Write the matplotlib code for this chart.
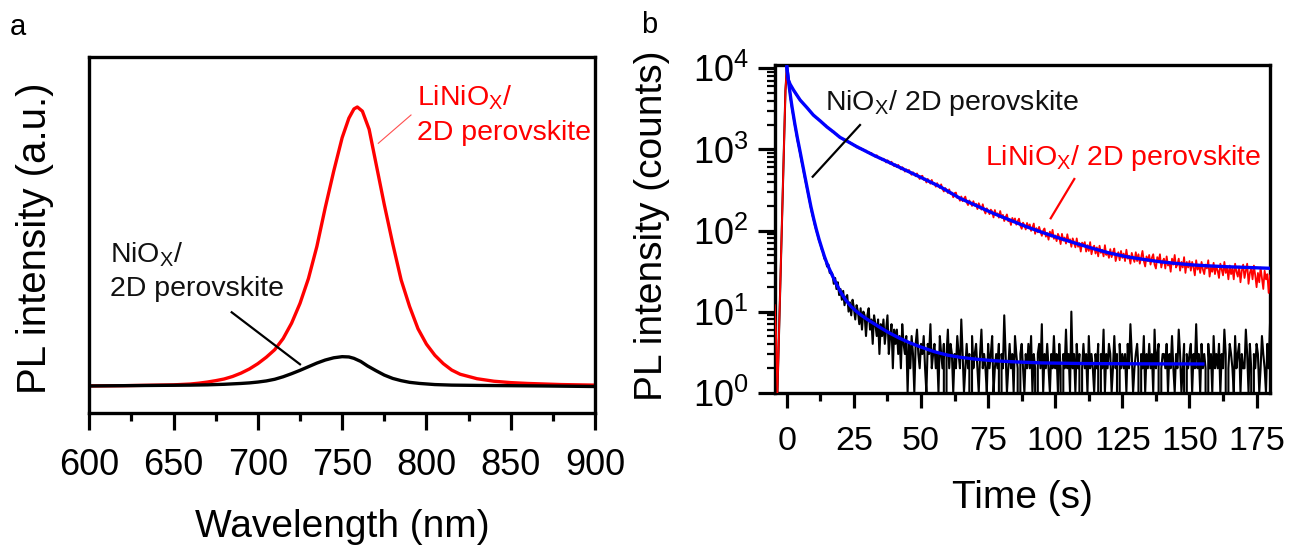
import numpy as np
import matplotlib
matplotlib.use('Agg')
import matplotlib.pyplot as plt
from matplotlib.lines import Line2D
from matplotlib.ticker import MultipleLocator, LogLocator, NullFormatter, NullLocator, LogFormatterMathtext

plt.rcParams['font.family'] = ['Liberation Sans', 'DejaVu Sans']
plt.rcParams['mathtext.fontset'] = 'custom'
plt.rcParams['mathtext.rm'] = 'Liberation Sans'
plt.rcParams['mathtext.it'] = 'Liberation Sans:italic'
plt.rcParams['mathtext.default'] = 'regular'

# ---------------- Panel a data: steady-state PL ----------------
wl_red = [600, 620, 640, 650, 660, 665, 670, 675, 680, 685, 690, 695, 700, 705, 710, 715,
          720, 725, 730, 735, 740, 745, 750, 754, 757, 759, 762, 766, 770, 775, 780, 785,
          790, 795, 800, 805, 810, 815, 820, 830, 840, 850, 860, 870, 880, 890, 900]
pl_red = [0.000, 0.001, 0.003, 0.004, 0.007, 0.010, 0.014, 0.019, 0.025, 0.034, 0.046, 0.061,
          0.080, 0.103, 0.130, 0.170, 0.225, 0.296, 0.385, 0.500, 0.640, 0.770, 0.890, 0.960,
          0.993, 1.000, 0.985, 0.920, 0.800, 0.650, 0.510, 0.380, 0.285, 0.205, 0.150, 0.110,
          0.080, 0.057, 0.042, 0.026, 0.017, 0.012, 0.009, 0.007, 0.005, 0.004, 0.003]
wl_black = [600, 640, 660, 670, 680, 690, 695, 700, 705, 710, 715, 720, 725, 730, 735, 740,
            745, 750, 754, 757, 761, 765, 770, 775, 780, 785, 790, 796, 805, 815, 830, 850,
            870, 900]
pl_black = [0.000, 0.002, 0.003, 0.004, 0.006, 0.009, 0.011, 0.014, 0.018, 0.024, 0.033,
            0.044, 0.056, 0.069, 0.082, 0.093, 0.101, 0.105, 0.104, 0.099, 0.088, 0.072,
            0.055, 0.039, 0.027, 0.019, 0.013, 0.009, 0.005, 0.003, 0.002, 0.001, 0.000,
            -0.002]

# ---------------- Panel b data: TRPL decays ----------------
t_start = -4.5   # first channel time (s)
t_step = 0.5     # channel width (s)
counts_red = [12, 5, 1, 4, 17, 74, 310, 1300, 5400, 10000,
              7450, 6750, 6050, 5750, 5350, 5100, 4730, 4550, 4220, 4080,
              3850, 3760, 3540, 3450, 3250, 3170, 2980, 2910, 2730, 2670,
              2590, 2450, 2420, 2290, 2270, 2140, 2120, 2000, 1990, 1870,
              1860, 1760, 1750, 1650, 1660, 1560, 1550, 1460, 1470, 1380,
              1390, 1320, 1335, 1270, 1280, 1215, 1230, 1160, 1180, 1120,
              1130, 1060, 1085, 1020, 1045, 985, 1005, 950, 970, 915,
              931, 878, 906, 854, 854, 806, 849, 802, 772, 789,
              737, 769, 740, 691, 736, 709, 663, 705, 652, 621,
              655, 606, 645, 603, 568, 605, 582, 533, 568, 531,
              559, 512, 487, 524, 500, 467, 506, 463, 432, 466,
              474, 422, 437, 391, 433, 405, 378, 421, 372, 384,
              347, 384, 359, 334, 371, 326, 303, 335, 318, 290,
              322, 283, 294, 257, 289, 294, 251, 258, 233, 263,
              230, 248, 262, 223, 206, 235, 220, 201, 230, 203,
              214, 184, 217, 197, 181, 211, 178, 162, 188, 176,
              159, 181, 172, 145, 179, 155, 163, 144, 174, 144,
              156, 131, 146, 158, 130, 138, 117, 143, 129, 141,
              118, 130, 140, 115, 105, 125, 117, 103, 124, 108,
              119, 99, 109, 122, 91, 107, 95, 111, 97, 86,
              100, 106, 84, 93, 77, 97, 84, 102, 79, 87,
              74, 91, 83, 68, 91, 75, 82, 69, 90, 73,
              78, 63, 80, 71, 62, 80, 63, 70, 55, 71,
              65, 72, 55, 66, 56, 72, 51, 61, 65, 52,
              62, 48, 65, 53, 58, 48, 66, 50, 54, 46,
              59, 47, 54, 60, 42, 49, 54, 43, 56, 46,
              52, 42, 58, 45, 49, 39, 53, 46, 41, 54,
              42, 51, 39, 47, 56, 42, 36, 48, 42, 50,
              38, 46, 51, 38, 34, 47, 41, 51, 35, 42,
              45, 34, 48, 37, 41, 31, 45, 38, 50, 35,
              38, 45, 32, 41, 35, 47, 30, 41, 35, 42,
              32, 41, 35, 28, 43, 33, 38, 30, 41, 33,
              29, 38, 34, 43, 27, 35, 31, 40, 29, 36,
              32, 26, 39, 33, 28, 41, 30, 35, 25, 37,
              29, 34, 25, 39, 31, 27, 36, 23, 32, 38,
              26, 32, 39, 22, 30, 34, 25, 37, 28, 20,
              30, 23, 35, 26, 19, 32, 25, 29, 17, 28]
counts_black = [1, 1, 1, 4, 17, 74, 310, 1300, 5400, 10000,
                7400, 5600, 4100, 3150, 2520, 1980, 1600, 1290, 1080, 890,
                720, 610, 490, 405, 330, 275, 228, 186, 158, 137,
                115, 101, 88, 76, 68, 59, 54, 45, 43, 36,
                38, 30, 31, 29, 22, 26, 19, 23, 16, 19,
                14, 18, 12, 15, 16, 10, 13, 9, 14, 11,
                8, 12, 10, 7, 11, 6, 10, 9, 5, 9,
                11, 6, 8, 4, 9, 7, 5, 8, 3, 7,
                5, 8, 4, 6, 9, 3, 5, 7, 2, 6,
                4, 6, 3, 5, 2, 7, 4, 3, 5, 1,
                4, 2, 5, 3, 1, 4, 6, 3, 2, 4,
                3, 5, 2, 1, 4, 3, 7, 2, 3, 4,
                2, 3, 1, 5, 3, 2, 4, 0, 3, 6,
                2, 4, 3, 1, 3, 2, 5, 3, 2, 8,
                3, 1, 2, 4, 2, 3, 0, 5, 2, 3,
                4, 2, 1, 3, 6, 2, 3, 2, 1, 4,
                2, 3, 5, 1, 2, 3, 2, 4, 0, 3,
                2, 9, 3, 1, 2, 4, 2, 3, 1, 5,
                3, 2, 0, 3, 4, 2, 1, 3, 2, 4,
                2, 5, 1, 3, 2, 0, 3, 4, 2, 7,
                1, 3, 2, 4, 2, 1, 3, 2, 5, 2,
                3, 1, 4, 2, 0, 3, 2, 6, 2, 3,
                1, 10, 2, 3, 1, 4, 2, 3, 0, 2,
                4, 2, 3, 1, 5, 2, 3, 2, 1, 3,
                2, 4, 0, 3, 2, 6, 1, 3, 2, 4,
                3, 1, 2, 5, 2, 3, 0, 4, 2, 3,
                2, 3, 1, 4, 2, 7, 3, 1, 2, 3,
                4, 2, 0, 3, 2, 5, 1, 3, 2, 4,
                2, 3, 1, 6, 2, 3, 4, 0, 2, 3,
                3, 2, 4, 1, 3, 2, 5, 2, 1, 3,
                2, 6, 3, 1, 2, 4, 0, 3, 2, 3,
                4, 1, 3, 2, 7, 2, 3, 1, 4, 2,
                3, 2, 0, 4, 2, 3, 1, 5, 2, 3,
                2, 4, 1, 3, 2, 6, 3, 0, 2, 4,
                3, 2, 1, 5, 2, 3, 4, 1, 3, 2,
                2, 6, 3, 1, 4, 2, 0, 3, 2, 4,
                3, 1, 2, 5, 3, 2, 1, 4, 2, 7]
fit_red_t = [0, 0.3, 0.6, 1.2, 2.5, 4.95, 7.5, 9.9, 12.5, 14.9, 17.5, 19.8, 23, 26.1, 29,
             32.3, 38, 44.7, 51, 57.1, 64.5, 70, 76.9, 83, 89.4, 95.5, 101.8, 108, 114.1,
             120, 126.6, 133, 139, 145, 151.4, 157.5, 163.8, 172, 180]
fit_red_v = [10400, 8600, 7180, 6400, 5400, 4070, 3280, 2650, 2240, 1900, 1630, 1410, 1236,
             1080, 967, 850, 695, 546, 435, 347, 250, 207, 163, 135, 111, 94, 80, 69, 60,
             53, 47.5, 44, 41.2, 39.3, 37.6, 36.6, 35.8, 35, 34.2]
fit_black_t = [0, 0.5, 1, 1.5, 2, 3, 4, 5, 6, 7, 8, 9, 10, 11, 12, 13, 14, 15, 16.5, 18, 20,
               22, 24, 26, 28, 30, 32.5, 35, 38, 42, 46, 50, 55, 60, 65, 70, 77, 85, 95,
               110, 130, 155]
fit_black_v = [10400, 7500, 5600, 4200, 3250, 2050, 1350, 920, 620, 420, 285, 195, 140, 103,
               78, 61, 48, 39, 30, 23.5, 17.5, 13.8, 11.5, 10.0, 8.9, 8.0, 7.1, 6.3, 5.5,
               4.7, 4.1, 3.65, 3.2, 2.9, 2.72, 2.6, 2.48, 2.4, 2.33, 2.29, 2.27, 2.26]

RED = '#ff0000'
BLUE = '#0000ff'

W, H = 1291, 546
fig = plt.figure(figsize=(W / 100, H / 100), dpi=100)


def fx(x):
    return x / W


def fy(y):
    return 1 - y / H


# ---------------- Panel a ----------------
a_l, a_r, a_t, a_b = 89.3, 595.0, 56.5, 413.3
axa = fig.add_axes([fx(a_l), fy(a_b), (a_r - a_l) / W, (a_b - a_t) / H])
axa.plot(wl_red, pl_red, color=RED, lw=2.4, solid_joinstyle='round', zorder=2)
axa.plot(wl_black, pl_black, color='black', lw=2.4, solid_joinstyle='round', zorder=3)
axa.set_xlim(600, 900)
axa.set_ylim(-0.098, 1.181)
axa.xaxis.set_major_locator(MultipleLocator(50))
axa.xaxis.set_minor_locator(MultipleLocator(25))
axa.yaxis.set_major_locator(NullLocator())
axa.yaxis.set_minor_locator(NullLocator())
axa.tick_params(axis='x', which='major', direction='out', length=12, width=2.3,
                labelsize=26, pad=13, top=False)
axa.tick_params(axis='x', which='minor', direction='out', length=6, width=2.3, top=False)
for s in axa.spines.values():
    s.set_linewidth(2.4)
axa.set_xlabel('Wavelength (nm)', fontsize=28)
axa.xaxis.label.set_va('baseline')
axa.xaxis.set_label_coords(0.5, (a_b - 536.7) / (a_b - a_t))
axa.set_ylabel('PL intensity (a.u.)', fontsize=29)
axa.yaxis.label.set_va('baseline')
axa.yaxis.set_label_coords((46 - a_l) / (a_r - a_l), 0.49)

# ---------------- Panel b ----------------
b_l, b_r, b_t, b_b = 775.0, 1270.0, 65.0, 392.7
axb = fig.add_axes([fx(b_l), fy(b_b), (b_r - b_l) / W, (b_b - b_t) / H])
t_axis = t_start + t_step * np.arange(len(counts_black))
axb.plot(t_axis, counts_black, color='black', lw=1.5, zorder=2)
axb.plot(t_axis, counts_red, color=RED, lw=1.3, zorder=3)
axb.plot(fit_black_t, fit_black_v, color=BLUE, lw=2.4, zorder=4)
axb.plot(fit_red_t, fit_red_v, color=BLUE, lw=2.4, zorder=4)
axb.set_yscale('log', nonpositive='clip')
axb.set_ylim(1, 1.1e4)
axb.set_xlim(-4.4, 180)
axb.xaxis.set_major_locator(MultipleLocator(25))
axb.xaxis.set_minor_locator(MultipleLocator(12.5))
axb.yaxis.set_major_locator(LogLocator(base=10, numticks=10))
axb.yaxis.set_minor_locator(LogLocator(base=10, subs=np.arange(2, 10), numticks=20))
axb.yaxis.set_major_formatter(LogFormatterMathtext())
axb.yaxis.set_minor_formatter(NullFormatter())
axb.tick_params(axis='x', which='major', direction='out', length=11, width=2.3,
                labelsize=24.5, pad=13, top=False)
axb.tick_params(axis='x', which='minor', direction='out', length=5.5, width=2.3, top=False)
axb.tick_params(axis='y', which='major', direction='out', length=12, width=2.3,
                labelsize=26, pad=7, right=False)
axb.tick_params(axis='y', which='minor', direction='out', length=6, width=1.6, right=False)
for s in axb.spines.values():
    s.set_linewidth(2.4)
axb.set_xlabel('Time (s)', fontsize=28)
axb.xaxis.label.set_va('baseline')
axb.xaxis.set_label_coords(0.5, (b_b - 508) / (b_b - b_t))
axb.set_ylabel('PL intensity (counts)', fontsize=28)
axb.yaxis.label.set_va('baseline')
axb.yaxis.set_label_coords((662 - b_l) / (b_r - b_l), 0.51)

# ---------------- Panel letters ----------------
fig.text(fx(10), fy(35), 'a', fontsize=21, va='baseline', ha='left')
fig.text(fx(641), fy(33), 'b', fontsize=21, va='baseline', ha='left')

# ---------------- Annotations ----------------
ANN = 20.5
fig.text(fx(416.7), fy(105), r'LiNiO$_{X}$/', fontsize=ANN, color=RED, va='baseline')
fig.text(fx(416.7), fy(139.5), '2D perovskite', fontsize=ANN, color=RED, va='baseline')
fig.add_artist(Line2D([fx(411), fx(378.3)], [fy(115), fy(143.3)], color='#ff5050',
                      lw=0.8, transform=fig.transFigure))
fig.text(fx(110), fy(262), r'NiO$_{X}$/', fontsize=ANN, color='#111111', va='baseline')
fig.text(fx(110), fy(296), '2D perovskite', fontsize=ANN, color='#111111', va='baseline')
fig.add_artist(Line2D([fx(231.7), fx(300)], [fy(312.3), fy(364.3)], color='black',
                      lw=1.6, transform=fig.transFigure))

fig.text(fx(825), fy(110), r'NiO$_{X}$/ 2D perovskite', fontsize=ANN, color='#111111',
         va='baseline')
fig.add_artist(Line2D([fx(860), fx(812.7)], [fy(125), fy(176.7)], color='black',
                      lw=1.6, transform=fig.transFigure))
fig.text(fx(985), fy(165), r'LiNiO$_{X}$/ 2D perovskite', fontsize=ANN, color=RED,
         va='baseline')
fig.add_artist(Line2D([fx(1074.3), fx(1050.7)], [fy(179), fy(218.3)], color=RED,
                      lw=1.6, transform=fig.transFigure))

fig.savefig('out.png', dpi=100)
